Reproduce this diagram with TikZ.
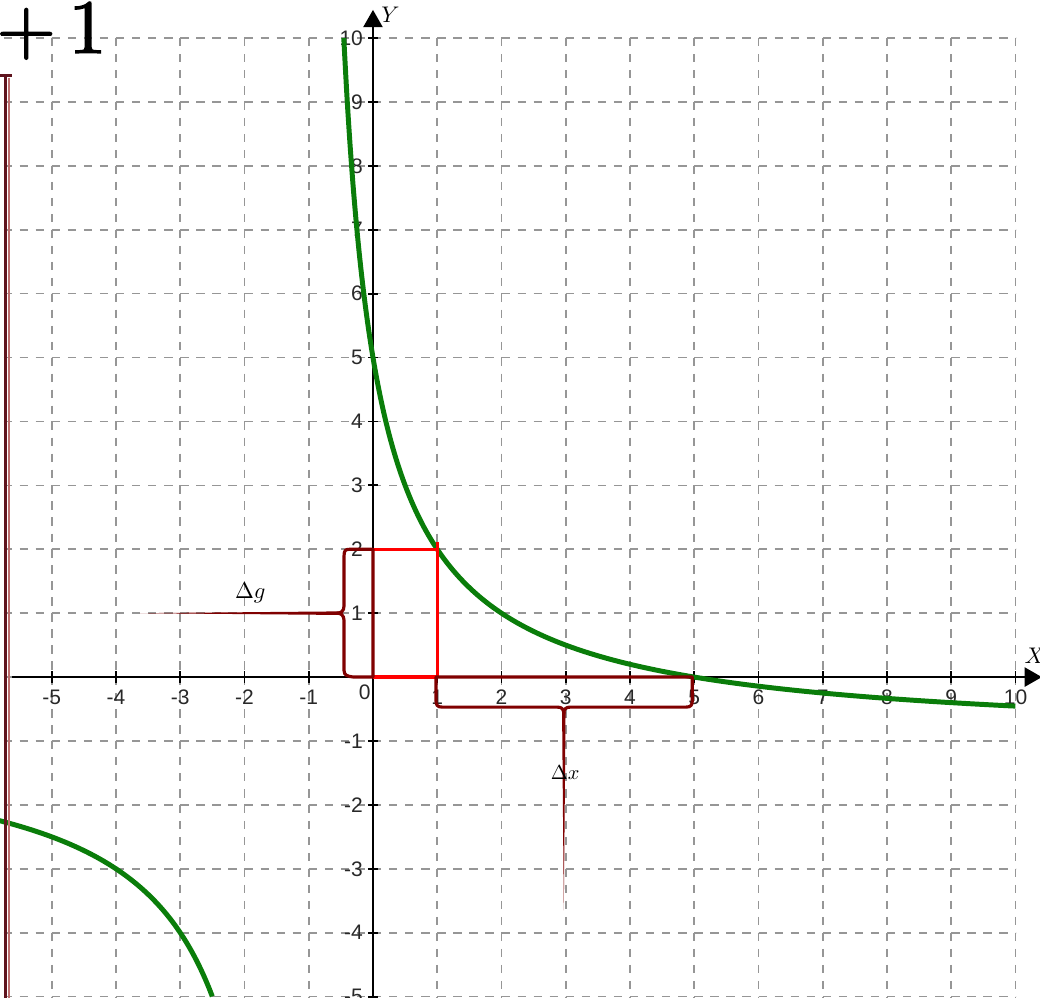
\documentclass[tikz,border=0pt]{standalone}
\usepackage{fontspec}
\newfontfamily\ticksfont{Liberation Sans}
\newfontfamily\bigfont{lmroman10-regular}[Extension=.otf, FakeBold=1.6]
\usetikzlibrary{arrows.meta}
\definecolor{gridgray}{RGB}{150,150,150}
\definecolor{curvegreen}{RGB}{10,125,10}
\definecolor{bracered}{RGB}{128,0,0}
\definecolor{framebrown}{RGB}{95,20,30}
\definecolor{framelight}{RGB}{190,110,110}
\definecolor{ticktext}{RGB}{40,40,40}
\tikzset{
  gridline/.style={gridgray, line width=0.75pt, dash pattern=on 0.13cm off 0.12cm},
  axisline/.style={black, line width=0.9pt},
  tickmark/.style={black, line width=0.8pt},
  ticklabel/.style={inner sep=0pt, text=ticktext, font=\ticksfont\fontsize{9.3}{11}\selectfont},
  curveline/.style={curvegreen, line width=2.2pt, line join=round},
  redline/.style={red, line width=1.4pt},
  bracepath/.style={bracered, line width=1.4pt, line join=round, line cap=round},
}
\begin{document}
\begin{tikzpicture}[x=1cm, y=0.9946cm]
\useasboundingbox (-5.805,-5.008) rectangle (10.381,10.595);
\begin{scope}
\clip (-5.805,-5.008) rectangle (10.381,10.595);
% grid
\foreach \i in {-6,...,9}{
  \foreach \j in {-5,...,10}{
    \draw[gridline] (\i,\j) -- (\i+1,\j);
  }
}
\foreach \i in {-5,...,10}{
  \foreach \j in {-6,...,9}{
    \draw[gridline] (\i,\j+1) -- (\i,\j);
  }
}
% axes
\draw[axisline, -{Triangle[length=0.27cm,width=0.3cm]}] (-5.62,0) -- (10.41,0);
\draw[axisline, -{Triangle[length=0.27cm,width=0.3cm]}] (0,-5.2) -- (0,10.44);
\foreach \x in {-5,...,10}{ \draw[tickmark] (\x,-0.09) -- (\x,0.09); }
\foreach \y in {-5,...,10}{ \draw[tickmark] (-0.08,\y) -- (0.08,\y); }
% tick labels
\foreach \x [count=\k] in {-5,-4,-3,-2,-1,1,2,3,4,5,6,7,8,9,10}{
  \node[ticklabel] (xl\k) at (\x,-0.32) {\x};
}
\foreach \y [count=\k] in {-5,-4,-3,-2,-1,1,2,3,4,5,6,7,8,9,10}{
  \node[ticklabel, anchor=east] (yl\k) at (-0.15,\y) {\y};
}
\node[ticklabel] (orig) at (-0.13,-0.24) {0};
\node[inner sep=0pt] (ylab) at (0.27,10.36) {$Y$};
\node[inner sep=0pt] (xlab) at (10.3,0.34) {$X$};
% curve
\draw[curveline] plot[domain=-0.4545:10, samples=220, smooth] (\x,{6/(\x+1)-1});
\draw[curveline] plot[domain=-6:-2.5, samples=120, smooth] (\x,{6/(\x+1)-1});
% red rectangle
\draw[redline] (0,2) -- (1,2);
\draw[redline] (1,2.12) -- (1,0);
\draw[redline] (0,0) -- (1,0);
% left brace
\draw[bracepath] (0,2) -- (-0.36,2) .. controls (-0.43,2) and (-0.45,1.98) .. (-0.45,1.9)
  -- (-0.45,1.12) .. controls (-0.45,1.03) and (-0.5,1.0) .. (-0.56,1.0)
  .. controls (-0.5,1.0) and (-0.45,0.97) .. (-0.45,0.88)
  -- (-0.45,0.1) .. controls (-0.45,0.03) and (-0.4,0.01) .. (-0.3,0) -- (0,0) -- cycle;
\fill[bracered] (-0.52,1.028) -- (-3.63,1.0) -- (-0.52,0.972) -- cycle;
% bottom brace
\draw[bracepath] (0.98,0) -- (4.97,0) -- (4.97,-0.36) .. controls (4.97,-0.44) and (4.95,-0.47) .. (4.87,-0.47)
  -- (3.07,-0.47) .. controls (3.0,-0.47) and (2.97,-0.5) .. (2.97,-0.58)
  .. controls (2.97,-0.5) and (2.94,-0.47) .. (2.87,-0.47)
  -- (1.08,-0.47) .. controls (1.0,-0.47) and (0.98,-0.44) .. (0.98,-0.36) -- cycle;
\fill[bracered] (2.943,-0.55) -- (2.97,-3.65) -- (2.997,-0.55) -- cycle;
% labels of braces
\node[inner sep=0pt] (dg) at (-1.91,1.31) {$\Delta g$};
\node[inner sep=0pt, scale=0.9] (dx) at (2.99,-1.5) {$\Delta x$};
% frame fragment at the left
\draw[framebrown, line width=1.5pt] (-5.81,9.41) -- (-5.62,9.41);
\draw[framelight, line width=0.7pt] (-5.665,9.38) -- (-5.665,-5.2);
\draw[framebrown, line width=1.5pt] (-5.72,9.41) -- (-5.72,-5.2);
% big text fragment
\node[anchor=base west, inner sep=0pt, font=\bigfont\fontsize{34}{40}\selectfont] (plusone) at (-5.868,9.765) {+\kern0.16em1};
\end{scope}
\end{tikzpicture}
\end{document}
